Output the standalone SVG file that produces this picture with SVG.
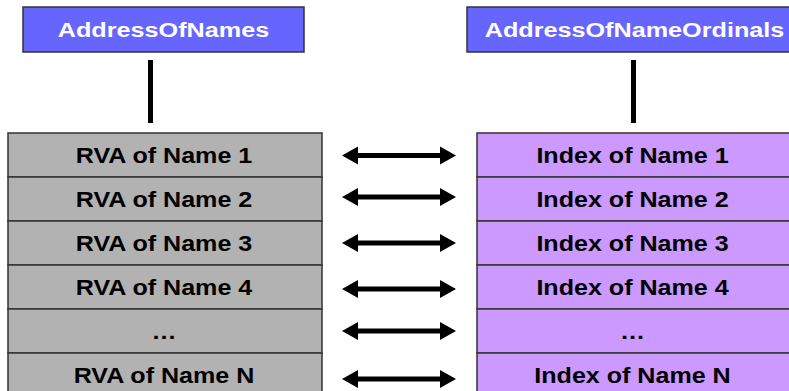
<svg xmlns="http://www.w3.org/2000/svg" width="789" height="391" viewBox="0 0 789 391">
<style>
.hdr{fill:#6666FF;stroke:#333;stroke-width:1.5}
.gray{fill:#B2B2B2;stroke:#333;stroke-width:1.5}
.purp{fill:#CC99FF;stroke:#333;stroke-width:1.5}
.ht{font-family:"Liberation Sans",Arial,sans-serif;font-weight:bold;font-size:21px;fill:#fff;text-anchor:middle}
.t{font-family:"Liberation Sans",Arial,sans-serif;font-weight:bold;font-size:22px;fill:#000;text-anchor:middle}
.bar{fill:#000}
.arr{fill:#000}
</style>
<defs>
<path id="arrow" d="M-57,0 L-41,-9 L-41,-2.5 L41,-2.5 L41,-9 L57,0 L41,9 L41,2.5 L-41,2.5 L-41,9 Z"/>
</defs>
<g id="hdr-names">
<rect class="hdr" x="23" y="7" width="281" height="45"/>
<text class="ht" transform="translate(163.5,37) scale(1.2,1)">AddressOfNames</text>
</g>
<g id="hdr-ordinals">
<rect class="hdr" x="467" y="7" width="340" height="45"/>
<text class="ht" transform="translate(634.5,37) scale(1.2,1)">AddressOfNameOrdinals</text>
</g>
<g id="names-table">
<rect class="gray" x="8" y="133" width="314" height="44"/>
<rect class="gray" x="8" y="177" width="314" height="44"/>
<rect class="gray" x="8" y="221" width="314" height="44"/>
<rect class="gray" x="8" y="265" width="314" height="44"/>
<rect class="gray" x="8" y="309" width="314" height="44"/>
<rect class="gray" x="8" y="353" width="314" height="44"/>
<text class="t" transform="translate(164,163) scale(1.14,1)">RVA of Name 1</text>
<text class="t" transform="translate(164,207) scale(1.14,1)">RVA of Name 2</text>
<text class="t" transform="translate(164,251) scale(1.14,1)">RVA of Name 3</text>
<text class="t" transform="translate(164,295) scale(1.14,1)">RVA of Name 4</text>
<text class="t" transform="translate(164,339) scale(1.14,1)">…</text>
<text class="t" transform="translate(164,383) scale(1.14,1)">RVA of Name N</text>
</g>
<g id="ordinals-table">
<rect class="purp" x="477" y="133" width="330" height="44"/>
<rect class="purp" x="477" y="177" width="330" height="44"/>
<rect class="purp" x="477" y="221" width="330" height="44"/>
<rect class="purp" x="477" y="265" width="330" height="44"/>
<rect class="purp" x="477" y="309" width="330" height="44"/>
<rect class="purp" x="477" y="353" width="330" height="44"/>
<text class="t" transform="translate(632.5,163) scale(1.14,1)">Index of Name 1</text>
<text class="t" transform="translate(632.5,207) scale(1.14,1)">Index of Name 2</text>
<text class="t" transform="translate(632.5,251) scale(1.14,1)">Index of Name 3</text>
<text class="t" transform="translate(632.5,295) scale(1.14,1)">Index of Name 4</text>
<text class="t" transform="translate(632.5,339) scale(1.14,1)">…</text>
<text class="t" transform="translate(632.5,383) scale(1.14,1)">Index of Name N</text>
</g>
<g id="connectors">
<rect class="bar" x="148" y="60" width="5" height="63"/>
<rect class="bar" x="631" y="60" width="5" height="63"/>
<use href="#arrow" class="arr" transform="translate(399,155.5)"/>
<use href="#arrow" class="arr" transform="translate(399,197)"/>
<use href="#arrow" class="arr" transform="translate(399,243)"/>
<use href="#arrow" class="arr" transform="translate(399,289)"/>
<use href="#arrow" class="arr" transform="translate(399,331)"/>
<use href="#arrow" class="arr" transform="translate(399,379)"/>
</g>
</svg>
